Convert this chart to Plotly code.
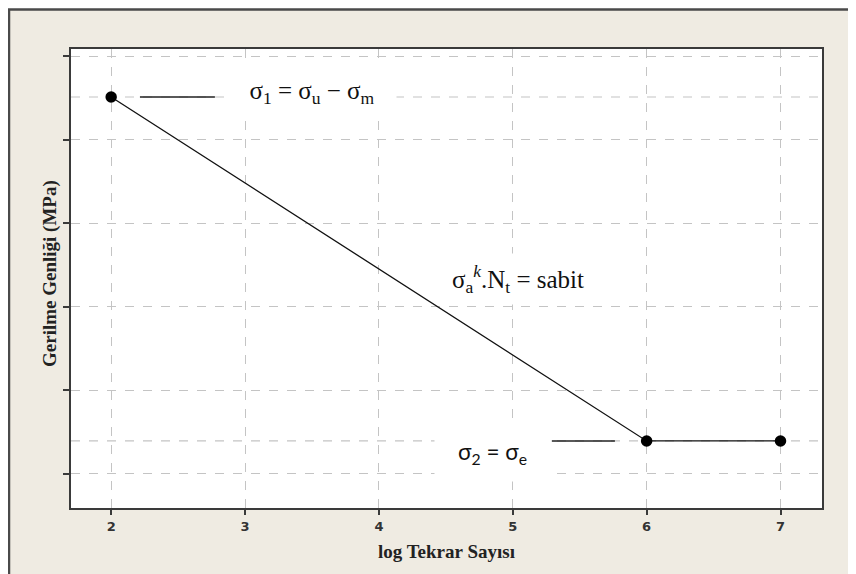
import plotly.graph_objects as go

# ---- data ----
log_cycles = [2, 6, 7]
stress_amp = [4.51, 0.395, 0.395]
x_ticks = [2, 3, 4, 5, 6, 7]
y_ticks = [0, 1, 2, 3, 4, 5]
sigma1_level = stress_amp[0]
sigma2_level = stress_amp[1]

# page is drawn with an 8px body margin, so the figure is offset by 8px
OFF = 8
W, H = 856 - OFF, 574 - OFF
L, R, T = 71 - OFF, 34, 49 - OFF
B = H - (508 - OFF)
PW, PH = W - L - R, H - T - B


def px(x):  # page x pixel -> paper
    return (x - OFF - L) / PW


def py(y):  # page y pixel -> paper
    return (H - B - (y - OFF)) / PH


fig = go.Figure()
fig.add_trace(go.Scatter(
    x=log_cycles, y=stress_amp, mode="lines+markers",
    line=dict(color="#111111", width=1.3),
    marker=dict(color="#000000", size=11.5, symbol="circle"),
    showlegend=False, hoverinfo="skip"))

grid = "#C4C4C4"
shapes = [
    dict(type="rect", xref="paper", yref="paper", x0=px(9), x1=px(900), y0=py(620), y1=py(9.5),
         fillcolor="#EFEBE2", line=dict(color="#4A4A4A", width=2.5), layer="below"),
    dict(type="rect", xref="paper", yref="paper", x0=0, x1=1, y0=0, y1=1,
         fillcolor="white", line=dict(width=0), layer="below"),
    dict(type="line", xref="paper", yref="y", x0=0, x1=1, y0=sigma1_level, y1=sigma1_level,
         line=dict(color=grid, width=1.2, dash="dash"), layer="below"),
    dict(type="line", xref="paper", yref="y", x0=0, x1=1, y0=sigma2_level, y1=sigma2_level,
         line=dict(color=grid, width=1.2, dash="dash"), layer="below"),
    dict(type="line", xref="x", yref="y", x0=2.215, x1=2.775, y0=sigma1_level, y1=sigma1_level,
         line=dict(color="#222222", width=1.6), layer="above"),
    dict(type="line", xref="x", yref="y", x0=5.292, x1=5.763, y0=sigma2_level, y1=sigma2_level,
         line=dict(color="#222222", width=1.6), layer="above"),
]

serif = "Liberation Serif"
ann = [
    dict(x=px(312), y=py(93), text="σ<sub>1</sub> = σ<sub>u</sub> − σ<sub>m</sub>",
         width=168, height=51),
    dict(x=px(518), y=py(279), text="σ<sub>a</sub><sup><i>k</i></sup>.N<sub>t</sub> = sabit",
         width=160, height=50),
    dict(x=px(492), y=py(453), text="σ<sub>2</sub> = σ<sub>e</sub>",
         width=115, height=56, font=dict(family="Lato", size=22.5, color="#111111")),
]
annotations = []
for a in ann:
    d = dict(xref="paper", yref="paper", xanchor="center", yanchor="middle", showarrow=False,
             bgcolor="white", borderpad=0, align="center", valign="middle",
             font=dict(family=serif, size=25, color="#111111"))
    d.update(a)
    annotations.append(d)

annotations.append(dict(xref="paper", yref="paper", x=px(446), y=py(551), text="<b>log Tekrar Sayısı</b>",
                        showarrow=False, xanchor="center", yanchor="middle",
                        font=dict(family=serif, size=19, color="#222222")))
annotations.append(dict(xref="paper", yref="paper", x=px(50), y=py(274), text="<b>Gerilme Genliği (MPa)</b>",
                        showarrow=False, xanchor="center", yanchor="middle", textangle=-90,
                        font=dict(family=serif, size=19, color="#222222")))

fig.update_layout(
    width=W, height=H, margin=dict(l=L, r=R, t=T, b=B, autoexpand=False),
    paper_bgcolor="white", plot_bgcolor="white",
    shapes=shapes, annotations=annotations,
    xaxis=dict(range=[1.70, 7.31], tickvals=x_ticks, ticktext=[str(v) for v in x_ticks],
               showgrid=True, gridcolor=grid, griddash="dash", gridwidth=1.2,
               zeroline=False, showline=True, mirror=True, linecolor="#3A3A3A", linewidth=2,
               ticks="outside", ticklen=5, tickwidth=1.5, tickcolor="#3A3A3A",
               tickfont=dict(family="DejaVu Sans", size=13, color="#333333", weight="bold")),
    yaxis=dict(range=[-0.407, 5.084], tickvals=y_ticks, showticklabels=False,
               showgrid=True, gridcolor=grid, griddash="dash", gridwidth=1.2,
               zeroline=False, showline=True, mirror=True, linecolor="#3A3A3A", linewidth=2,
               ticks="outside", ticklen=6, tickwidth=1.5, tickcolor="#3A3A3A"),
)

fig.write_html("out.html")
